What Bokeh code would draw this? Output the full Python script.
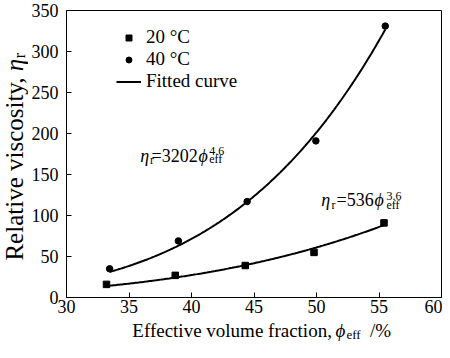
import numpy as np
from math import pi
from bokeh.plotting import figure
from bokeh.layouts import row, column
from bokeh.models import Range1d, FixedTicker, Label, Legend, LegendItem
from bokeh.embed import file_html
from bokeh.resources import INLINE

# ---- data ----
phi_20 = [33.2, 38.7, 44.3, 49.8, 55.4]
eta_20 = [16, 27, 39, 55, 91]
phi_40 = [33.45, 38.95, 44.45, 49.95, 55.5]
eta_40 = [35, 69, 117, 191, 331]
x_ticks = [30, 35, 40, 45, 50, 55, 60]
y_ticks = [0, 50, 100, 150, 200, 250, 300, 350]
legend_labels = ["20 °C", "40 °C", "Fitted curve"]

FONT = "Liberation Serif"
AXFONT = "'Liberation Serif'"


def power_fit(x, y):
    """least squares fit y = a * x**b (linear residuals)"""
    x = np.asarray(x, float)
    y = np.asarray(y, float)
    best = None
    for b in np.linspace(1.0, 8.0, 7001):
        xb = x ** b
        a = (y * xb).sum() / (xb * xb).sum()
        r = ((y - a * xb) ** 2).sum()
        if best is None or r < best[0]:
            best = (r, a, b)
    return best[1], best[2]


# ---------------- main plot ----------------
p = figure(width=414, height=320, output_backend="svg", toolbar_location=None,
           x_range=Range1d(30, 60), y_range=Range1d(0, 350),
           min_border_left=35, min_border_right=1, min_border_top=10, min_border_bottom=23)
p.grid.visible = False
p.outline_line_color = "black"
p.outline_line_width = 1
p.background_fill_color = "white"
p.border_fill_color = "white"

for ax in (p.xaxis[0], p.yaxis[0]):
    ax.axis_line_color = "black"
    ax.major_tick_line_color = "black"
    ax.major_tick_in = 5
    ax.major_tick_out = 0
    ax.minor_tick_line_color = None
    ax.major_label_text_font = AXFONT
    ax.major_label_text_font_size = "18px"
    ax.major_label_text_color = "black"
p.xaxis[0].ticker = FixedTicker(ticks=x_ticks)
p.yaxis[0].ticker = FixedTicker(ticks=y_ticks)
p.xaxis[0].major_label_standoff = 2
p.yaxis[0].major_label_standoff = 8

# fitted curves
a40, b40 = power_fit(phi_40, eta_40)
a20, b20 = power_fit(phi_20, eta_20)
xs40 = np.linspace(min(phi_40), max(phi_40), 200)
xs20 = np.linspace(min(phi_20), max(phi_20), 200)
l40 = p.line(xs40, a40 * xs40 ** b40, line_color="black", line_width=2)
l20 = p.line(xs20, a20 * xs20 ** b20, line_color="black", line_width=2)

r20 = p.scatter(phi_20, eta_20, marker="square", size=6.5, color="black")
r40 = p.scatter(phi_40, eta_40, marker="circle", size=6.5, color="black")

legend = Legend(items=[LegendItem(label=legend_labels[0], renderers=[r20]),
                       LegendItem(label=legend_labels[1], renderers=[r40]),
                       LegendItem(label=legend_labels[2], renderers=[l20])],
                location=(50, 205), glyph_width=25, glyph_height=15, label_standoff=5,
                spacing=0, padding=0, margin=0, border_line_color=None,
                background_fill_alpha=0, label_text_font=FONT,
                label_text_font_size="19px", label_text_color="black")
p.add_layout(legend)


def lab(fig, text, x, y, size="18px", style="normal", angle=0, align="left"):
    fig.add_layout(Label(text=text, x=x, y=y, text_font=FONT, text_font_size=size,
                         text_font_style=style, text_color="black", text_align=align,
                         text_baseline="middle", angle=angle))


# equation 1 (40 °C)
lab(p, "η", 35.9, 172.0, style="italic")
lab(p, "r", 36.68, 167.8, size="12px")
lab(p, "=3202", 40.5, 172.0, align="right")
lab(p, "ϕ", 40.56, 172.0, style="italic")
lab(p, "4.6", 41.42, 178.6, size="12px")
lab(p, "eff", 41.42, 168.4, size="12px")

# equation 2 (20 °C)
lab(p, "η", 50.38, 118.6, style="italic")
lab(p, "r", 51.2, 113.3, size="12px")
lab(p, "=536", 54.57, 118.6, align="right")
lab(p, "ϕ", 54.63, 118.6, style="italic")
lab(p, "3.6", 55.6, 123.4, size="12px")
lab(p, "eff", 55.6, 112.3, size="12px")


# ---------------- axis-title strips (pixel coordinates) ----------------
def strip(w, h):
    f = figure(width=w, height=h, output_backend="svg", toolbar_location=None,
               x_range=Range1d(0, w), y_range=Range1d(0, h),
               x_axis_location=None, y_axis_location=None,
               min_border=0, min_border_left=0, min_border_right=0,
               min_border_top=0, min_border_bottom=0)
    f.grid.visible = False
    f.outline_line_color = None
    f.background_fill_color = "white"
    f.border_fill_color = "white"
    return f


xlab = strip(414, 22)
lab(xlab, "Effective volume fraction,", 293, 12, size="19px", align="right")
lab(xlab, "ϕ", 297, 12, size="19px", style="italic")
lab(xlab, "eff", 309, 7.6, size="13px")
lab(xlab, "/%", 335, 12, size="19px")

ylab = strip(28, 342)
lab(ylab, "Relative viscosity,", 14, 265, size="25px", angle=pi / 2, align="right")
lab(ylab, "η", 14, 271.2, size="25px", style="italic", angle=pi / 2)
lab(ylab, "r", 19.1, 284.2, size="16px", angle=pi / 2)

layout = row(ylab, column(p, xlab, spacing=0), spacing=0)

open("out.html", "w").write(file_html(layout, INLINE))
